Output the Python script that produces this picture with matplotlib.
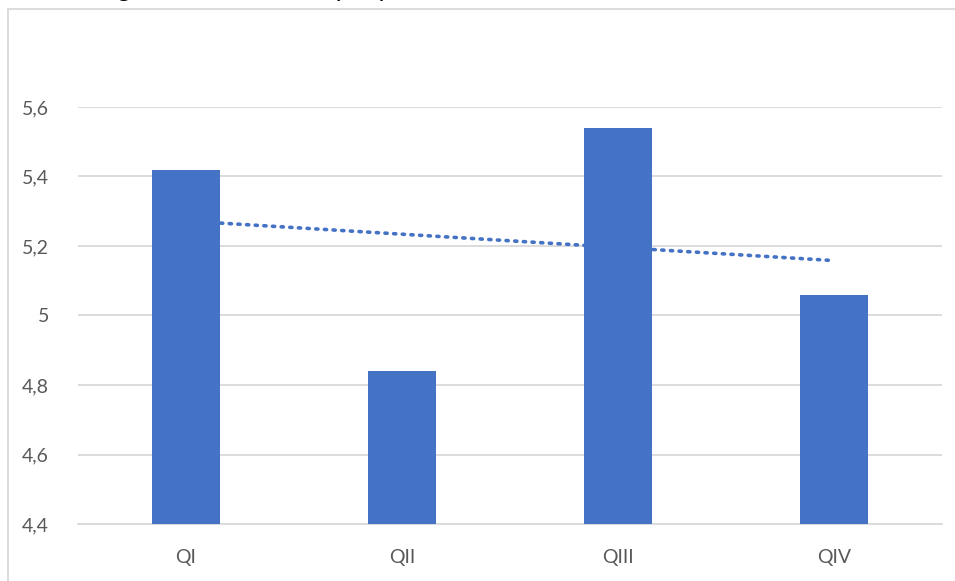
import numpy as np
import matplotlib
matplotlib.use("Agg")
import matplotlib.pyplot as plt
from matplotlib.patches import Rectangle

categories = ["QI", "QII", "QIII", "QIV"]
values = [5.42, 4.84, 5.54, 5.06]
y_ticks = [4.4, 4.6, 4.8, 5.0, 5.2, 5.4, 5.6]
y_tick_labels = ["4,4", "4,6", "4,8", "5", "5,2", "5,4", "5,6"]
title_text = "Tendencia general de la media por partes"

W, H = 955, 581
fig = plt.figure(figsize=(W / 100, H / 100), dpi=100)
plt.rcParams["font.family"] = ["Lato", "DejaVu Sans"]

# chart frame
fig.patches.append(Rectangle((8 / W, -0.1), 1.2, 1 - 9 / H + 0.1,
                             transform=fig.transFigure, fill=False,
                             edgecolor="#D9D9D9", linewidth=1.3))

# title line, clipped at the top edge
fig.text(0.0, 1 + 3 / H, title_text, ha="left", va="baseline",
         fontsize=19, style="italic", color="#000000")

ax = fig.add_axes([78 / W, (H - 524) / H, (942 - 78) / W, (524 - 107) / H])
x = np.arange(len(categories))
ax.bar(x, values, width=0.315, color="#4472C4", zorder=3)

# linear trendline
coef = np.polyfit(x, values, 1)
ax.plot(x, np.polyval(coef, x), linestyle=(0, (0.6, 1.8)), color="#4472C4",
        linewidth=2.6, zorder=2, dash_capstyle="round")

ax.set_xlim(-0.5, len(categories) - 0.5)
ax.set_ylim(4.4, 5.6)
ax.set_yticks(y_ticks)
ax.set_yticklabels(y_tick_labels)
ax.set_xticks(x)
ax.set_xticklabels(categories)
ax.grid(axis="y", color="#D9D9D9", linewidth=1.3, zorder=0)
ax.set_axisbelow(True)
for s in ["top", "right", "left"]:
    ax.spines[s].set_visible(False)
ax.spines["bottom"].set_color("#D9D9D9")
ax.spines["bottom"].set_linewidth(1.3)
ax.tick_params(axis="both", length=0, labelsize=14, labelcolor="#595959")
ax.tick_params(axis="y", pad=21)
ax.tick_params(axis="x", pad=18)

fig.savefig("out.png", dpi=100)
